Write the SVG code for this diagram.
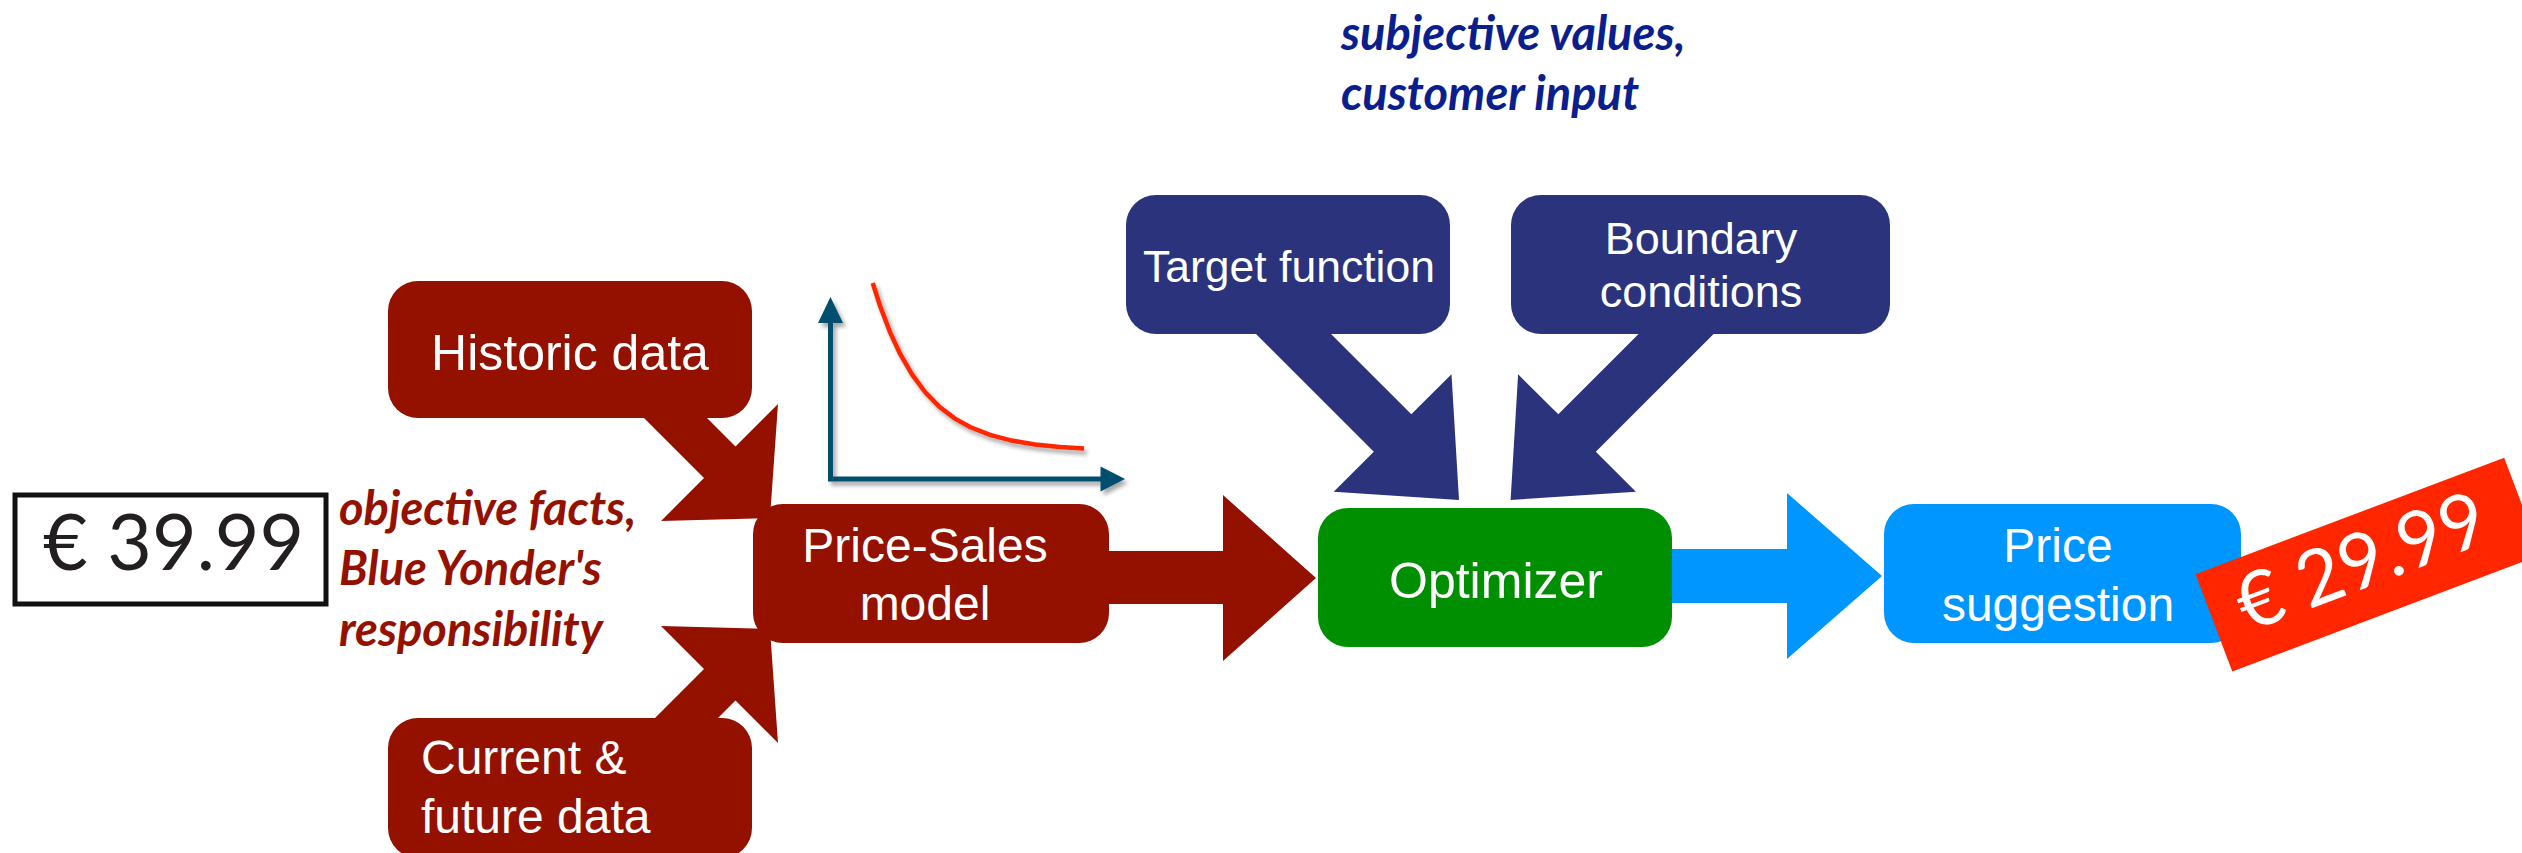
<svg xmlns="http://www.w3.org/2000/svg" width="2522" height="853" viewBox="0 0 2522 853">
  <defs>
    <filter id="soft-shadow" x="-10%" y="-10%" width="130%" height="130%">
      <feGaussianBlur in="SourceAlpha" stdDeviation="2"/>
      <feOffset dx="3" dy="4" result="blur"/>
      <feComponentTransfer><feFuncA type="linear" slope="0.35"/></feComponentTransfer>
      <feMerge><feMergeNode/><feMergeNode in="SourceGraphic"/></feMerge>
    </filter>
  </defs>
  <style>
    .label { font-family: "Liberation Sans", Arial, sans-serif; fill: #ffffff; }
    .mid { text-anchor: middle; }
    .note { font-family: Lato, "Liberation Sans", sans-serif; font-weight: 700; font-style: italic; font-size: 47px; }
    .price { font-family: Lato, "Liberation Sans", sans-serif; font-size: 77px; }
    .red { fill: #941100; }
    .navy { fill: #2b337d; }
    .green { fill: #008f00; }
    .sky { fill: #0096ff; }
    .axis { stroke: #01506e; stroke-width: 5; fill: none; }
  </style>

  <!-- connectors: block arrows between the stages -->
  <g id="connectors">
    <polygon class="red" points="626,400 704,478 661,521 770,518 778,404 735.5,446.5 689,400"/>
    <polygon class="red" points="626,747 704,669 661,626 770,629 778,743 735.5,700.5 689,747"/>
    <polygon class="red" points="1108,551 1223,551 1223,495 1316,578 1223,661 1223,604 1108,604"/>
    <polygon class="navy" points="1237,315 1373.8,451.8 1333.7,491.7 1459,500 1451.5,374.3 1411.3,414.3 1312,315"/>
    <polygon class="navy" points="1732.6,315 1595.8,451.8 1635.9,491.7 1510.6,500 1518.1,374.3 1558.3,414.3 1657.6,315"/>
    <polygon class="sky" points="1672,549 1787,549 1787,493 1882,576 1787,659 1787,603 1672,603"/>
  </g>

  <!-- old price tag -->
  <g id="old-price">
    <rect x="15" y="495" width="311" height="109" fill="#ffffff" stroke="#111111" stroke-width="5"/>
    <text class="price" x="43" y="570" fill="#231f20">€ 39.99</text>
  </g>

  <!-- annotations -->
  <g id="objective-note" class="note" fill="#941100">
    <text x="339" y="525">objective facts,</text>
    <text x="339" y="585">Blue Yonder's</text>
    <text x="339" y="646">responsibility</text>
  </g>
  <g id="subjective-note" class="note" fill="#0a1e8c">
    <text x="1341" y="50">subjective values,</text>
    <text x="1341" y="110">customer input</text>
  </g>

  <!-- price/sales sketch -->
  <g id="price-sales-chart" filter="url(#soft-shadow)">
    <polyline class="axis" points="830.5,318 830.5,479 1104,479"/>
    <polygon fill="#01506e" points="830.5,297 843,323 818,323"/>
    <polygon fill="#01506e" points="1125,479 1100.5,466.5 1100.5,491.5"/>
    <polyline fill="none" stroke="#ff2600" stroke-width="4.5" stroke-linejoin="round"
      points="872.7,283 880,305.8 890,332.1 900,353.7 912,374.4 925,392 940,407.3 955,418.6 970,427 990,434.9 1010,440.2 1035,444.5 1060,447 1084,448.5"/>
  </g>

  <!-- input nodes -->
  <g id="historic-data">
    <rect class="red" x="388" y="281" width="364" height="137" rx="30"/>
    <text class="label mid" x="570" y="370" font-size="50">Historic data</text>
  </g>
  <g id="current-data">
    <rect class="red" x="388" y="718" width="364" height="140" rx="30"/>
    <text class="label" x="421" y="774" font-size="48">Current &amp;</text>
    <text class="label" x="421" y="833" font-size="48">future data</text>
  </g>

  <g id="price-sales-model">
    <rect class="red" x="753" y="504" width="356" height="139" rx="30"/>
    <text class="label mid" x="925" y="562" font-size="48">Price-Sales</text>
    <text class="label mid" x="925" y="620" font-size="48">model</text>
  </g>

  <g id="target-function">
    <rect class="navy" x="1126" y="195" width="324" height="139" rx="30"/>
    <text class="label mid" x="1289" y="282" font-size="44.5">Target function</text>
  </g>
  <g id="boundary-conditions">
    <rect class="navy" x="1511" y="195" width="379" height="139" rx="30"/>
    <text class="label mid" x="1701" y="254" font-size="45">Boundary</text>
    <text class="label mid" x="1701" y="307" font-size="45">conditions</text>
  </g>

  <g id="optimizer">
    <rect class="green" x="1318" y="508" width="354" height="139" rx="30"/>
    <text class="label mid" x="1496" y="598" font-size="50">Optimizer</text>
  </g>

  <g id="price-suggestion">
    <rect class="sky" x="1884" y="504" width="357" height="139" rx="30"/>
    <text class="label mid" x="2058" y="562" font-size="48">Price</text>
    <text class="label mid" x="2058" y="621" font-size="48">suggestion</text>
  </g>

  <!-- new price tag -->
  <g id="new-price" transform="translate(2195.5,574.3) rotate(-20.7)">
    <rect x="0" y="0" width="330" height="104" fill="#ff2600"/>
    <text class="price mid" x="159.5" y="73" fill="#ffffff">€ 29.99</text>
  </g>
</svg>
